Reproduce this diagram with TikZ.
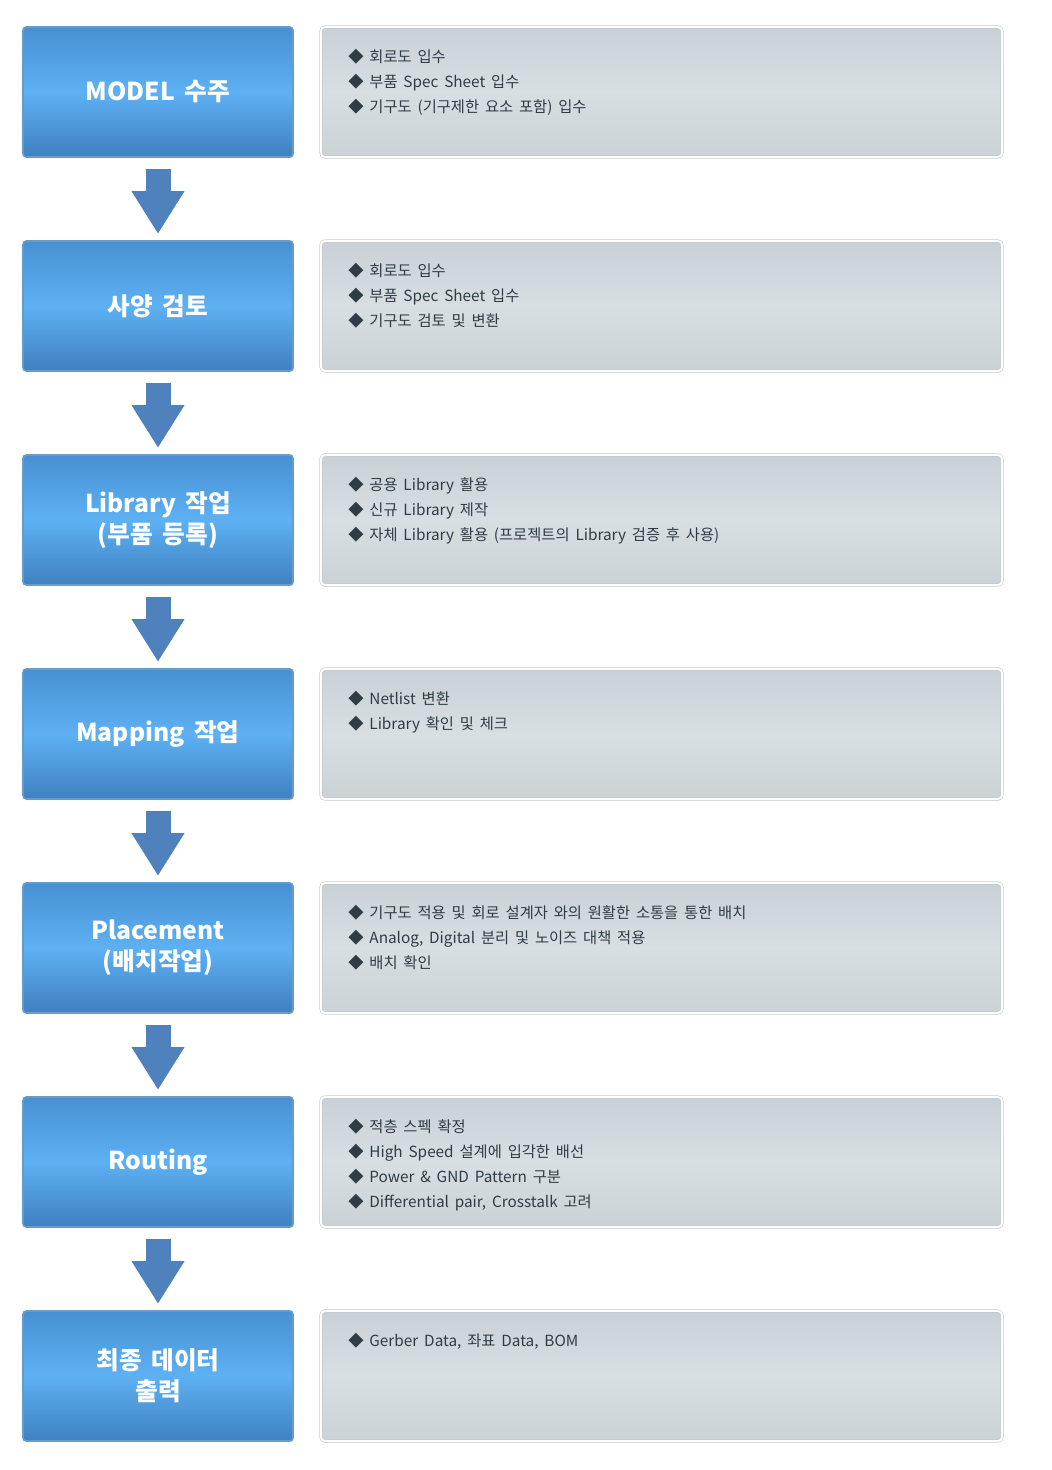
\documentclass[tikz,border=0pt]{standalone}
\usepackage{fontspec}
\setmainfont[WordSpace=1.7]{Noto Sans CJK KR}
\usepackage{tikz}
\usetikzlibrary{arrows.meta,positioning,shadows}
\definecolor{stagetop}{HTML}{4790D3}
\definecolor{stagemid}{HTML}{5DB1F3}
\definecolor{stagebot}{HTML}{3F80C0}
\definecolor{stageline}{HTML}{6A9AC6}
\definecolor{notetop}{HTML}{C9D1D6}
\definecolor{notemid}{HTML}{D8DFE3}
\definecolor{notebot}{HTML}{CBD2D6}
\definecolor{noteline}{HTML}{C6CACC}
\definecolor{arrowblue}{HTML}{4F81BD}
\definecolor{ink}{HTML}{2F3C46}
\tikzset{
    every picture/.style={line cap=round,line join=round},
    stagebox/.style={draw=stageline,line width=1.2pt,rounded corners=2.5pt,
      top color=stagetop,bottom color=stagebot,middle color=stagemid,
      minimum width=202.5pt,minimum height=97.5pt,inner sep=0pt,outer sep=0pt,
      text=white,font=\fontsize{18.5}{23.25}\selectfont\bfseries,align=center,
      drop shadow={shadow xshift=0.8pt,shadow yshift=-0.8pt,opacity=0.3}},
    notebox/.style={draw=noteline,line width=0.5pt,double=white,double distance=1.4pt,
      rounded corners=3pt,
      top color=notetop,bottom color=notebot,middle color=notemid,
      minimum width=510.75pt,minimum height=97.5pt,inner sep=0pt,outer sep=0pt,
      drop shadow={shadow xshift=0.8pt,shadow yshift=-0.8pt,opacity=0.25}},
    notetext/.style={anchor=north west,inner sep=0pt,text=ink,align=left,
      font=\fontsize{11.5}{18.75}\selectfont},
    flowarrow/.style={draw=arrowblue,line width=18.75pt,line cap=butt,
      -{Triangle[length=32.25pt,width=37.5pt]},shorten <=9pt,shorten >=5.25pt}
}

\begin{document}
\begin{tikzpicture}[node distance=63pt]
  \useasboundingbox (0,0) rectangle (788.25pt,-1102.5pt);
  % process steps
  \node[stagebox,anchor=north west] (s1) at (17.25pt,-20.25pt) {MODEL 수주};
  \node[stagebox,below=of s1] (s2) {사양 검토};
  \node[stagebox,below=of s2] (s3) {Library 작업\\(부품 등록)};
  \node[stagebox,below=of s3] (s4) {Mapping 작업};
  \node[stagebox,below=of s4] (s5) {Placement\\(배치작업)};
  \node[stagebox,below=of s5] (s6) {Routing};
  \node[stagebox,below=of s6] (s7) {최종 데이터\\출력};
  \draw[flowarrow] (s1.south)--(s2.north);
  \draw[flowarrow] (s2.south)--(s3.north);
  \draw[flowarrow] (s3.south)--(s4.north);
  \draw[flowarrow] (s4.south)--(s5.north);
  \draw[flowarrow] (s5.south)--(s6.north);
  \draw[flowarrow] (s6.south)--(s7.north);
  % detail boxes
  \node[notebox,right=21pt of s1] (d1) {};
  \node[notebox,right=21pt of s2] (d2) {};
  \node[notebox,right=21pt of s3] (d3) {};
  \node[notebox,right=21pt of s4] (d4) {};
  \node[notebox,right=21pt of s5] (d5) {};
  \node[notebox,right=21pt of s6] (d6) {};
  \node[notebox,right=21pt of s7] (d7) {};
  \node[notetext] (t1) at ([xshift=20.25pt,yshift=-16.5pt]d1.north west)
    {◆ 회로도 입수\\◆ 부품 Spec Sheet 입수\\◆ 기구도 (기구제한 요소 포함) 입수};
  \node[notetext] (t2) at ([xshift=20.25pt,yshift=-16.5pt]d2.north west)
    {◆ 회로도 입수\\◆ 부품 Spec Sheet 입수\\◆ 기구도 검토 및 변환};
  \node[notetext] (t3) at ([xshift=20.25pt,yshift=-16.5pt]d3.north west)
    {◆ 공용 Library 활용\\◆ 신규 Library 제작\\◆ 자체 Library 활용 (프로젝트의 Library 검증 후 사용)};
  \node[notetext] (t4) at ([xshift=20.25pt,yshift=-16.5pt]d4.north west)
    {◆ Netlist 변환\\◆ Library 확인 및 체크};
  \node[notetext] (t5) at ([xshift=20.25pt,yshift=-16.5pt]d5.north west)
    {◆ 기구도 적용 및 회로 설계자 와의 원활한 소통을 통한 배치\\◆ Analog, Digital 분리 및 노이즈 대책 적용\\◆ 배치 확인};
  \node[notetext] (t6) at ([xshift=20.25pt,yshift=-16.5pt]d6.north west)
    {◆ 적층 스펙 확정\\◆ High Speed 설계에 입각한 배선\\◆ Power \& GND Pattern 구분\\◆ Differential pair, Crosstalk 고려};
  \node[notetext] (t7) at ([xshift=20.25pt,yshift=-16.5pt]d7.north west)
    {◆ Gerber Data, 좌표 Data, BOM};
\end{tikzpicture}
\end{document}
